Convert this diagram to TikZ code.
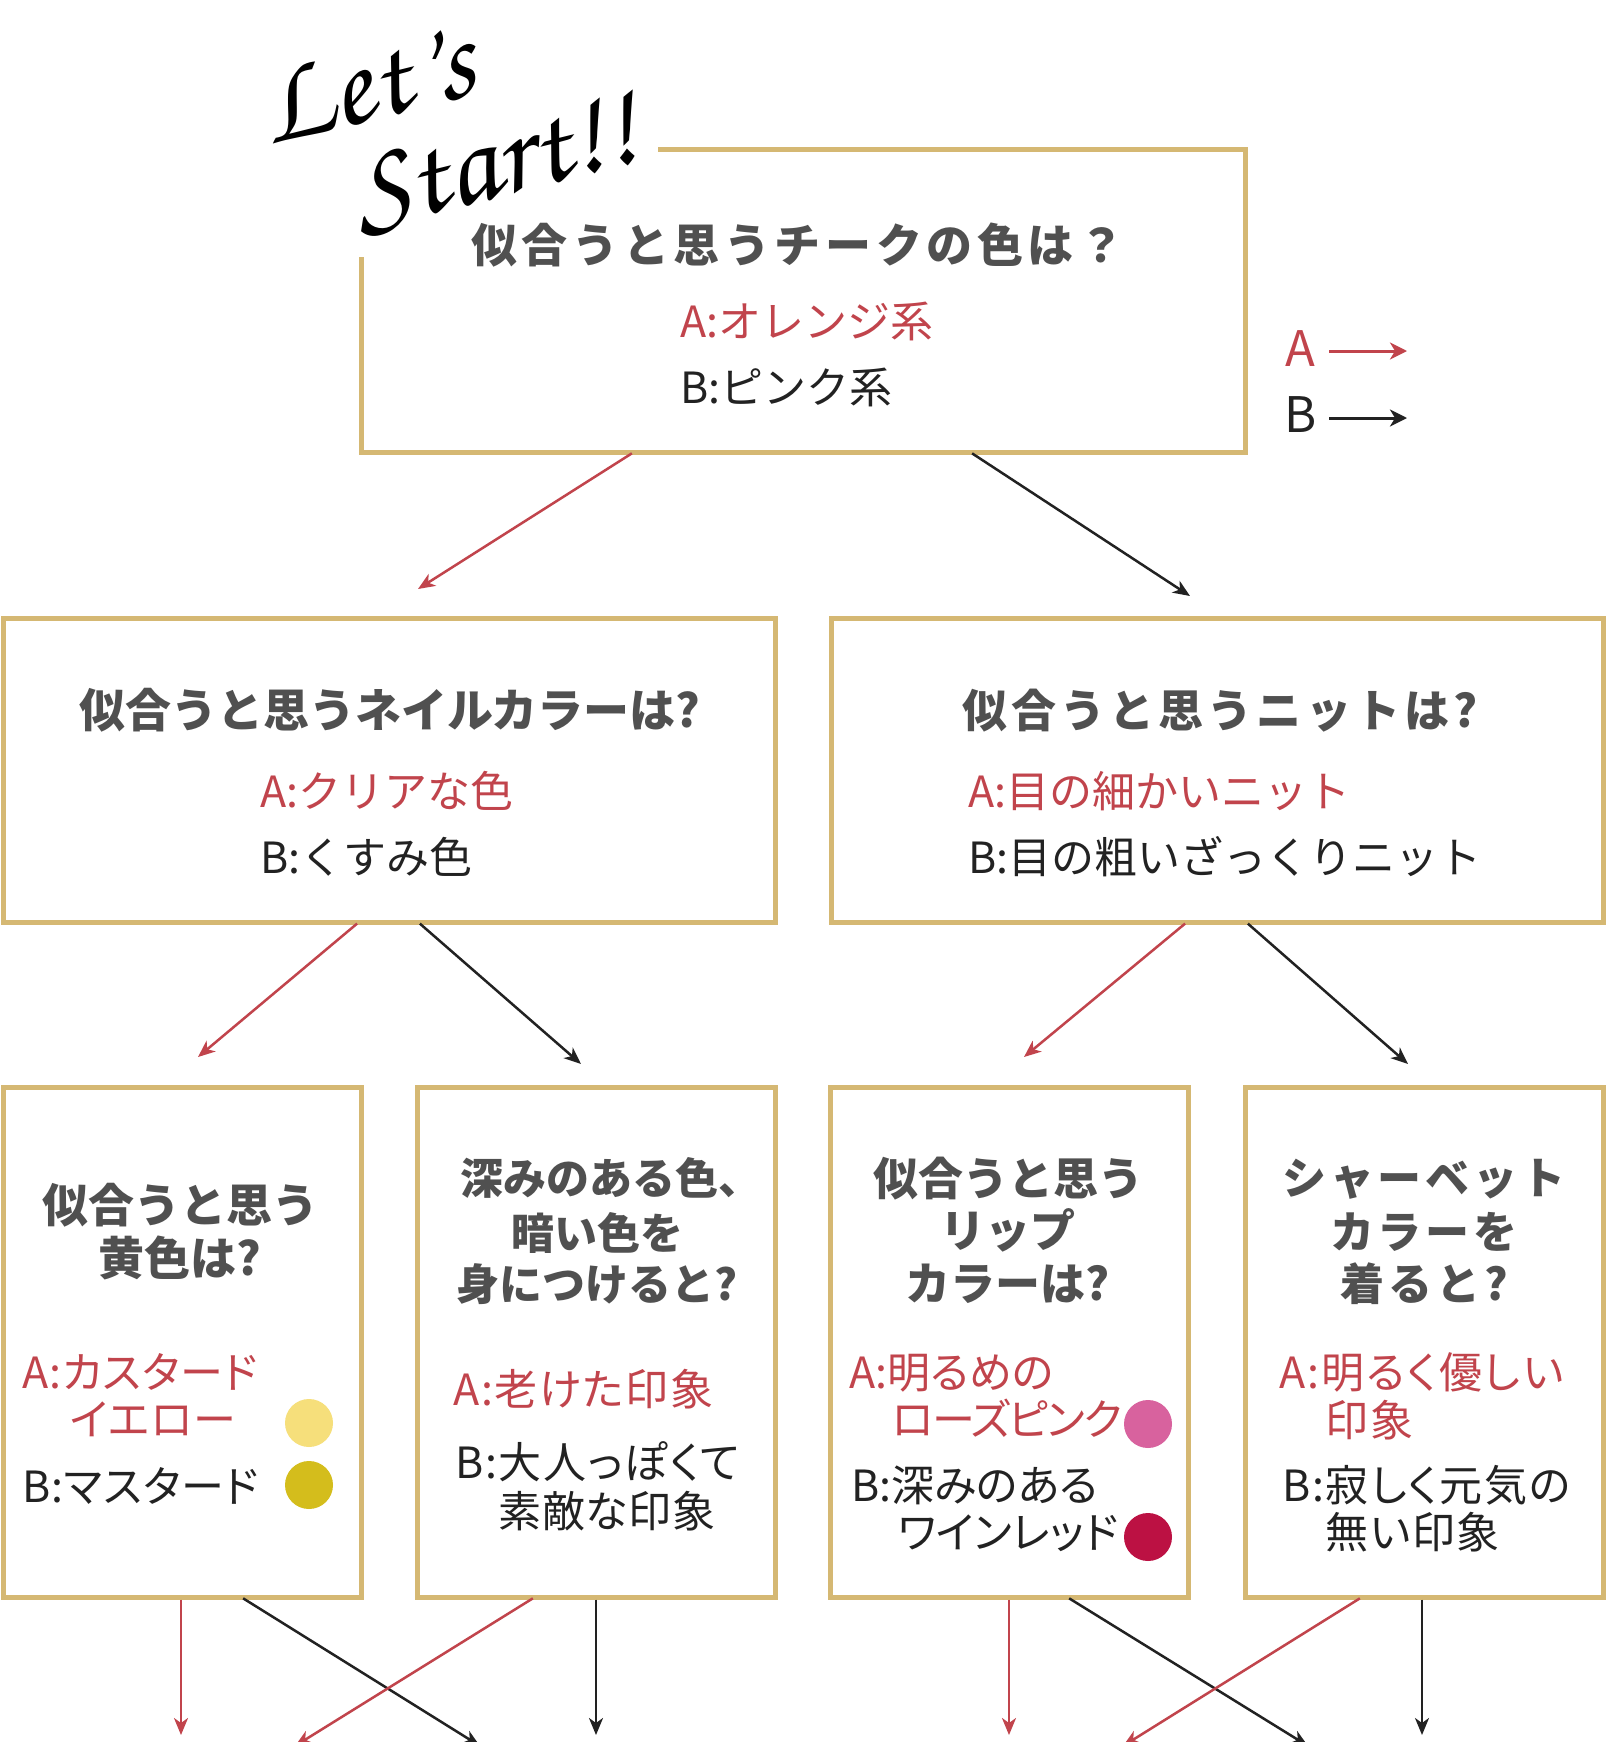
\documentclass[tikz,border=0pt]{standalone}
\usepackage[T1]{fontenc}
\usepackage{fontspec}
\setmainfont{Noto Sans CJK JP}
\usetikzlibrary{arrows.meta,calc}
\definecolor{gold}{HTML}{D5B873}
\definecolor{ared}{HTML}{C1444C}
\definecolor{bblk}{HTML}{222222}
\definecolor{tgray}{HTML}{505050}
\definecolor{ylight}{HTML}{F6DF7B}
\definecolor{ymust}{HTML}{D4BD1C}
\definecolor{rpink}{HTML}{D8629E}
\definecolor{wine}{HTML}{BC1143}
\newcommand\scriptlets{\fontencoding{T1}\fontfamily{pzc}\fontseries{m}\fontshape{it}\fontsize{122}{122}\selectfont}
\newcommand\paltf{\addfontfeature{RawFeature=+palt}}
\tikzset{
  gbox/.style={draw=gold,line width=5pt,inner sep=0pt,outer sep=0pt,rectangle},
  goldline/.style={draw=gold,line width=5pt},
  ttl/.style n args={2}{text=tgray,inner sep=0pt,anchor=base,font={\fontsize{#1}{#1}\selectfont\bfseries\addfontfeature{LetterSpace=#2}}},
  ans/.style n args={2}{text=#1,inner sep=0pt,anchor=base west,font={\fontsize{43}{43}\selectfont#2}},
  leg/.style={text=#1,inner sep=0pt,anchor=base west,font={\fontsize{49}{49}\selectfont}},
  dot/.style={circle,inner sep=0pt,minimum size=48pt,fill=#1},
  ca/.style={draw=ared,line width=2.5pt,shorten <=2.5pt,-{Stealth[length=17pt,width=14pt,inset=5pt]}},
  cb/.style={draw=bblk,line width=2.5pt,shorten <=2.5pt,-{Stealth[length=17pt,width=14pt,inset=5pt]}},
  lgarrow/.style={draw=#1,line width=3pt,-{Stealth[length=17pt,width=17pt,inset=5pt]}}
}
\begin{document}
\begin{tikzpicture}[x=1pt,y=-1pt]
\fill[white] (0,0) rectangle (1606,1742);
\useasboundingbox (0,0) rectangle (1606,1742);

% boxes
\node[inner sep=0pt,outer sep=0pt,minimum width=884pt,minimum height=303pt] (top) at (803,300.5) {};
\draw[goldline] ($(top.north west)+(297,0)$) -- (top.north east) -- (top.south east) -- (top.south west) -- ($(top.north west)+(0,108)$);
\node[gbox,minimum width=772pt,minimum height=304pt] (ml) at (389,770) {};
\node[gbox,minimum width=772pt,minimum height=304pt] (mr) at (1217,770) {};
\node[gbox,minimum width=358pt,minimum height=510pt] (b1) at (182,1342) {};
\node[gbox,minimum width=358pt,minimum height=510pt] (b2) at (596,1342) {};
\node[gbox,minimum width=358pt,minimum height=510pt] (b3) at (1009,1342) {};
\node[gbox,minimum width=358pt,minimum height=510pt] (b4) at (1424,1342) {};

% Let's Start!!
\node[rotate=14,inner sep=0pt] (lets) at (366,84) {\scriptlets Let's};
\node[rotate=14,inner sep=0pt] (start) at (494,164) {\scriptlets Start!!};

% top box text
\node[ttl={46}{10}] (q0) at (798,262) {似合うと思うチークの色は？};
\node[ans={ared}{}] (q0a) at (680,337) {A:オレンジ系};
\node[ans={bblk}{}] (q0b) at (680,403) {B:ピンク系};

% legend
\node[leg=ared] (la) at (1285,366) {A};
\node[leg=bblk] (lb) at (1284,432) {B};
\coordinate (la1) at (1329,351);
\coordinate (la2) at (1407,351);
\coordinate (lb1) at (1329,418);
\coordinate (lb2) at (1407,418);
\draw[lgarrow=ared] (la1) -- (la2);
\draw[lgarrow=bblk] (lb1) -- (lb2);

% middle boxes text
\node[ttl={46}{0}] (q1l) at (390,727) {似合うと思うネイルカラーは?};
\node[ans={ared}{}] (q1la) at (260,807) {A:クリアな色};
\node[ans={bblk}{}] (q1lb) at (260,873) {B:くすみ色};
\node[ttl={45}{9}] (q1r) at (1220,727) {似合うと思うニットは?};
\node[ans={ared}{}] (q1ra) at (968,807) {A:目の細かいニット};
\node[ans={bblk}{}] (q1rb) at (968,873) {B:目の粗いざっくりニット};

% bottom box 1
\node[ttl={46}{0}] (b1t1) at (180,1222) {似合うと思う};
\node[ttl={46}{0}] (b1t2) at (180,1275) {黄色は?};
\node[ans={ared}{\paltf\addfontfeature{LetterSpace=2}}] (b1a1) at (22,1388) {A:カスタード};
\node[ans={ared}{\paltf\addfontfeature{LetterSpace=2}}] (b1a2) at (70,1435) {イエロー};
\node[ans={bblk}{\paltf\addfontfeature{LetterSpace=2}}] (b1b1) at (22,1502) {B:マスタード};
\node[dot=ylight] (d1) at (309,1423) {};
\node[dot=ymust] (d2) at (309,1485) {};

% bottom box 2
\node[ttl={43}{0}] (b2t1) at (611,1194) {深みのある色、};
\node[ttl={43}{0}] (b2t2) at (597,1249) {暗い色を};
\node[ttl={43}{0}] (b2t3) at (597,1300) {身につけると?};
\node[ans={ared}{\paltf\addfontfeature{LetterSpace=4}}] (b2a1) at (453,1405) {A:老けた印象};
\node[ans={bblk}{\paltf\addfontfeature{LetterSpace=4}}] (b2b1) at (455,1478) {B:大人っぽくて};
\node[ans={bblk}{\paltf\addfontfeature{LetterSpace=2}}] (b2b2) at (498,1527) {素敵な印象};

% bottom box 3
\node[ttl={45}{0}] (b3t1) at (1008,1195) {似合うと思う};
\node[ttl={45}{0}] (b3t2) at (1008,1247) {リップ};
\node[ttl={45}{0}] (b3t3) at (1008,1300) {カラーは?};
\node[ans={ared}{\paltf}] (b3a1) at (849,1388) {A:明るめの};
\node[ans={ared}{\paltf\addfontfeature{LetterSpace=-4}}] (b3a2) at (892,1435) {ローズピンク};
\node[ans={bblk}{\paltf}] (b3b1) at (851,1501) {B:深みのある};
\node[ans={bblk}{\paltf}] (b3b2) at (898,1548) {ワインレッド};
\node[dot=rpink] (d3) at (1148,1424) {};
\node[dot=wine] (d4) at (1148,1537) {};

% bottom box 4
\node[ttl={44}{9}] (b4t1) at (1424,1194) {シャーベット};
\node[ttl={44}{9}] (b4t2) at (1424,1248) {カラーを};
\node[ttl={44}{9}] (b4t3) at (1424,1300) {着ると?};
\node[ans={ared}{\paltf\addfontfeature{LetterSpace=5}}] (b4a1) at (1279,1388) {A:明るく優しい};
\node[ans={ared}{\paltf\addfontfeature{LetterSpace=5}}] (b4a2) at (1325,1436) {印象};
\node[ans={bblk}{\paltf\addfontfeature{LetterSpace=4}}] (b4b1) at (1282,1501) {B:寂しく元気の};
\node[ans={bblk}{\paltf\addfontfeature{LetterSpace=4}}] (b4b2) at (1325,1548) {無い印象};

% connectors
\draw[ca] ($(top.south west)+(273,0)$) -- ($(ml.north)+(29,-29)$);
\draw[cb] ($(top.south west)+(609,0)$) -- ($(mr.north)+(-27,-22)$);
\draw[ca] ($(ml.south west)+(356,0)$) -- ($(b1.north)+(16,-30)$);
\draw[cb] ($(ml.south west)+(415,0)$) -- ($(b2.north)+(-15,-23)$);
\draw[ca] ($(mr.south west)+(356,0)$) -- ($(b3.north)+(15,-30)$);
\draw[cb] ($(mr.south west)+(415,0)$) -- ($(b4.north)+(-16,-23)$);
\draw[ca] ($(b1.south)+(-1,0)$) -- ($(b1.south)+(-1,138)$);
\draw[cb] ($(b1.south)+(59,0)$) -- ($(b1.south)+(298,149)$);
\draw[ca] ($(b2.south)+(-61,0)$) -- ($(b2.south)+(-301,149)$);
\draw[cb] (b2.south) -- ($(b2.south)+(0,138)$);
\draw[ca] (b3.south) -- ($(b3.south)+(0,138)$);
\draw[cb] ($(b3.south)+(58,0)$) -- ($(b3.south)+(299,149)$);
\draw[ca] ($(b4.south)+(-62,0)$) -- ($(b4.south)+(-301,149)$);
\draw[cb] ($(b4.south)+(-2,0)$) -- ($(b4.south)+(-2,138)$);
\end{tikzpicture}
\end{document}
